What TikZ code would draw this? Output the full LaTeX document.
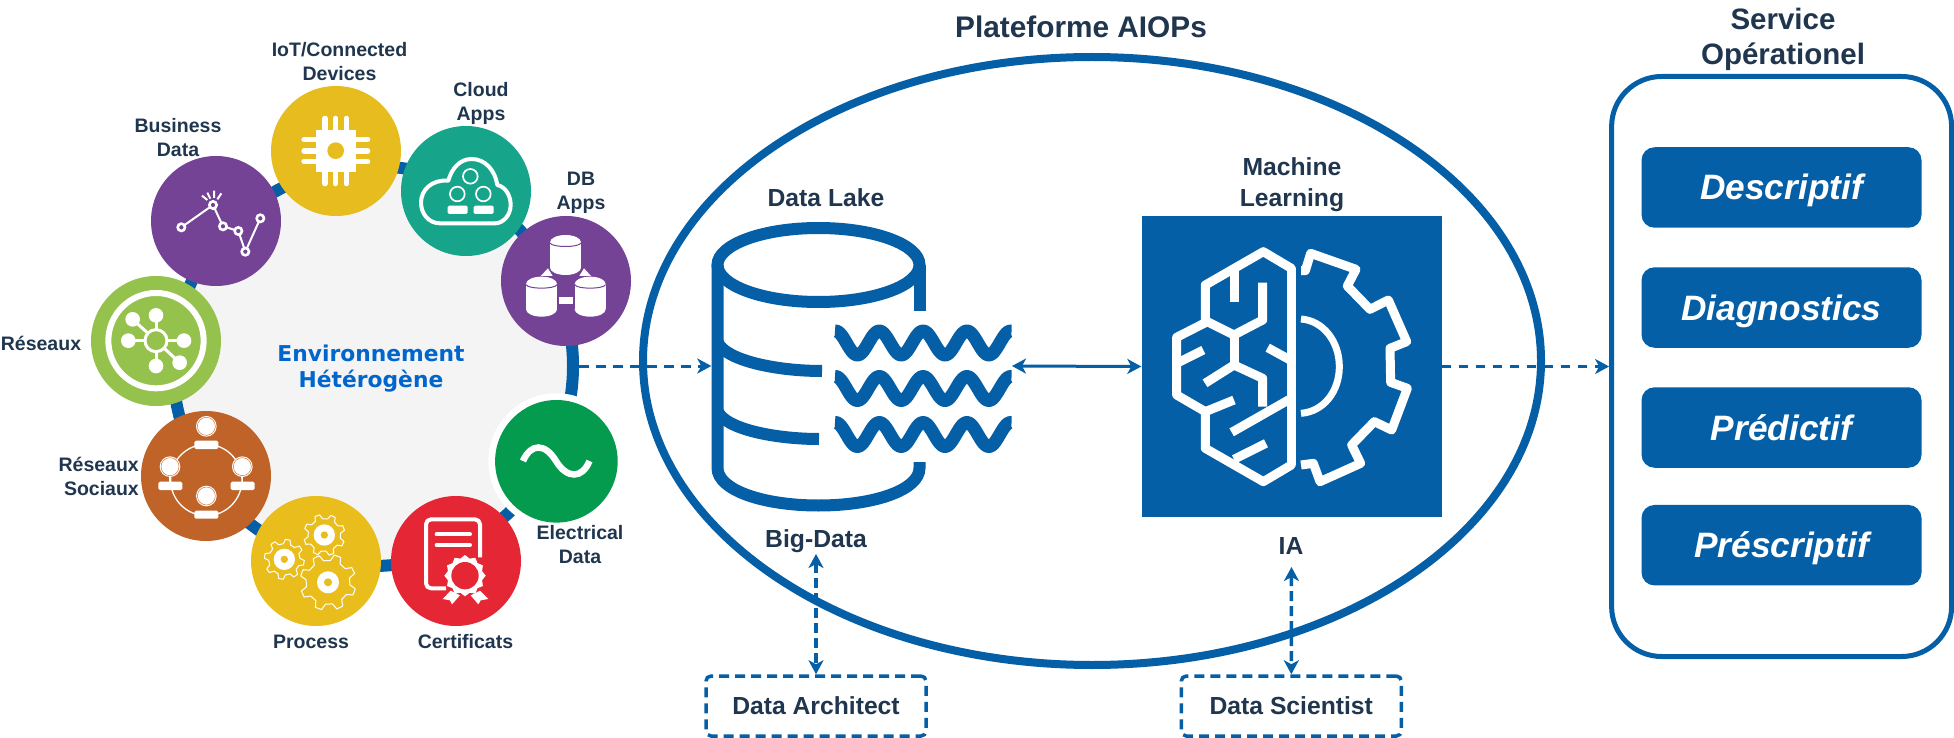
\documentclass[tikz,border=0pt]{standalone}
\usepackage{fontspec}
\setmainfont{Liberation Sans}
\newfontfamily\dvfont{DejaVu Sans}
\usetikzlibrary{arrows.meta,shapes.geometric}
\definecolor{bl}{HTML}{045FA6}
\definecolor{txt}{HTML}{20364F}
\definecolor{cyellow}{HTML}{E6BC1F}
\definecolor{cpurple}{HTML}{744396}
\definecolor{cgreen}{HTML}{95C14D}
\definecolor{cteal}{HTML}{16A58A}
\definecolor{cbrown}{HTML}{BF6328}
\definecolor{cgold}{HTML}{E9BE1C}
\definecolor{cred}{HTML}{E52635}
\definecolor{celec}{HTML}{059B4F}
\definecolor{cenv}{HTML}{0066CC}
\tikzset{
  disc/.style={circle,minimum size=130pt,inner sep=0pt},
  lbl/.style={font=\fontsize{19.5}{24}\selectfont\bfseries,text=txt,align=center,inner sep=0pt},
  bigl/.style={font=\fontsize{24.7}{30.5}\selectfont\bfseries,text=txt,align=center,inner sep=0pt},
  hugel/.style={font=\fontsize{29.5}{35}\selectfont\bfseries,text=txt,align=center,inner sep=0pt},
  svc/.style={rectangle,rounded corners=13pt,fill=bl,minimum width=280pt,minimum height=80.5pt,inner sep=0pt,
     text height=32pt,text depth=7pt,
     text=white,font=\fontsize{35.3}{40}\selectfont\bfseries\itshape},
  person/.style={rectangle,draw=bl,line width=3.5pt,dash pattern=on 10pt off 6pt,rounded corners=5pt,
     minimum width=220pt,minimum height=60pt,inner sep=0pt,font=\fontsize{24.7}{30}\selectfont\bfseries,text=txt},
  atip/.style={-{Stealth[length=14pt,width=15pt,inset=4pt]}},
  atips/.style={{Stealth[length=14pt,width=15pt,inset=4pt]}-{Stealth[length=14pt,width=15pt,inset=4pt]}},
  hdash/.style={draw=bl,line width=3pt,dash pattern=on 9.5pt off 7.5pt},
  vdash/.style={draw=bl,line width=3.5pt,dash pattern=on 10pt off 5pt},
  zoomed/.style={x=0.33333pt,y=-0.33333pt},
  wht/.style={draw=white,line cap=round,line join=round},
  anchorbox/.style={rectangle,inner sep=0pt},
}
\newcommand\gearpoly[6]{% cx cy ro ri n rot
  \pgfmathsetmacro\gs{360/#5}
  \pgfmathtruncatemacro\gl{#5-1}
  \draw[white,line width=1pt,line join=round,shift={(#1,#2)}] ({#6-0.3*\gs}:#4)
    \foreach \i in {0,...,\gl}{ -- ({#6+\i*\gs-0.3*\gs}:#4) -- ({#6+\i*\gs-0.15*\gs}:#3) -- ({#6+\i*\gs+0.15*\gs}:#3) -- ({#6+\i*\gs+0.3*\gs}:#4)} -- cycle;
}
\newcommand\gearicon[8]{% cx cy ro ri n rot disc hole
  \gearpoly{#1}{#2}{#3}{#4}{#5}{#6}
  \fill[white] (#1,#2) circle[radius=#7];
  \fill[cgold] (#1,#2) circle[radius=#8];
}
\newcommand\dbcyl[2]{% cx top
  \fill[white] (#1-46.5,#2+22) rectangle (#1+46.5,#2+98);
  \fill[white] (#1,#2+98) ellipse[x radius=46.5,y radius=22];
  \fill[white] (#1,#2+22) ellipse[x radius=46.5,y radius=22];
  \draw[cpurple,line width=1pt] (#1-46.5,#2+24) .. controls (#1-40,#2+38) and (#1+40,#2+38) .. (#1+46.5,#2+24);
}
\newcommand\usr[2]{% cx heady (person icon)
  \fill[white] (#1,#2) circle[radius=31];
  \draw[cbrown,line width=0.4pt] (#1,#2) circle[radius=27];
}
\begin{document}
\begin{tikzpicture}[x=1pt,y=-1pt]
\useasboundingbox (0,0) rectangle (1954,738);
\fill[white] (0,0) rectangle (1954,738);
% ring
\node[circle,draw=bl,fill=black!4.5,line width=12pt,minimum size=400pt,inner sep=0pt] (ring) at (373,366) {};
\node[inner sep=0pt,align=center,text=cenv,font=\dvfont\fontsize{21.8}{26}\selectfont\bfseries] (env) at (371,369) {Environnement\\Hétérogène};
% discs
\fill[white] (556.4,461.3) circle[radius=68];
\node[disc,fill=cyellow] (iot) at (336,151) {};
\node[disc,fill=cpurple] (bus) at (216,221) {};
\node[disc,fill=cgreen] (net) at (156,341) {};
\node[disc,fill=cteal] (cloud) at (466,191) {};
\node[disc,fill=cpurple] (db) at (566,281) {};
\node[disc,fill=cbrown] (soc) at (206,476) {};
\node[disc,fill=cgold] (proc) at (316,561) {};
\node[disc,fill=cred] (cert) at (456,561) {};
\node[circle,minimum size=122.6pt,inner sep=0pt,fill=celec] (elec) at (556.4,461.3) {};
% chip icon
\begin{scope}[shift={(90,80)},zoomed]
  \fill[white] (678,150) rectangle (798,275);
  \fill[cyellow] (737,212) circle[radius=25];
  \foreach \p in {705,737,770}{\draw[wht,line width=5.3pt] (\p,115)--(\p,150) (\p,275)--(\p,311);}
  \foreach \p in {178,213,245}{\draw[wht,line width=5.3pt] (642,\p)--(678,\p) (798,\p)--(833,\p);}
\end{scope}
% business icon
\begin{scope}[shift={(90,80)},zoomed]
  \draw[white,line width=2pt] (274,442)--(369,375)--(399,439)--(445,453)--(466,515)--(511,415);
  \foreach \q in {(274,442),(369,375),(399,439),(445,453),(466,515),(511,415)}{\draw[white,line width=2.6pt,fill=cpurple] \q circle[radius=11];}
  \draw[white,line width=2pt] (336,347)--(352,360) (352,338)--(361,356) (372,332)--(372,354) (394,340)--(382,358);
\end{scope}
% network icon
\begin{scope}[shift={(90,80)},zoomed]
  \draw[white,line width=6pt] (198,782) circle[radius=143];
  \foreach \q in {(198,706),(128,718),(115,782),(282,782),(198,858),(269,848)}{
    \draw[white,line width=3pt] (198,782)--\q; \fill[white] \q circle[radius=22];}
  \draw[white,line width=3pt,fill=cgreen] (198,782) circle[radius=33];
\end{scope}
% cloud icon
\begin{scope}[shift={(390,120)},zoomed]
  \draw[white,line width=4pt,line join=round] (150,310) .. controls (115,310) and (93,280) .. (93,248) .. controls (93,210) and (125,178) .. (175,182) .. controls (185,145) and (210,117) .. (245,117) .. controls (285,117) and (315,150) .. (322,195) .. controls (345,200) and (362,225) .. (362,255) .. controls (362,285) and (340,310) .. (315,310) -- cycle;
  \foreach \q in {(241,169),(202,222),(280,222)}{\draw[white,line width=1.7pt] \q circle[radius=22];}
  \fill[white,rounded corners=1.5pt] (173,257) rectangle (233,282);
  \fill[white,rounded corners=1.5pt] (251,257) rectangle (311,282);
\end{scope}
% db icon
\begin{scope}[shift={(390,120)},zoomed]
  \fill[white] (452,468)--(474,445)--(488,468)--cycle;
  \fill[white] (568,468)--(582,445)--(603,468)--cycle;
  \dbcyl{526.5}{345}
  \dbcyl{454.5}{470}
  \dbcyl{600.5}{470}
  \fill[white] (507,531) rectangle (549,553);
\end{scope}
% social icon
\begin{scope}[shift={(130,400)},zoomed]
  \draw[white,line width=1.3pt] (229,240) circle[radius=107];
  \usr{229}{79}\usr{120}{200}\usr{337}{200}\usr{229}{288}
  \foreach \q in {120,337}{\draw[white,line width=1.3pt] (\q,228)--(\q,250);}
  \fill[white,rounded corners=1.5pt] (193,122) rectangle (265,147);
  \fill[white,rounded corners=1.5pt] (85,245) rectangle (157,270);
  \fill[white,rounded corners=1.5pt] (302,245) rectangle (374,270);
  \fill[white,rounded corners=1.5pt] (193,332) rectangle (265,356);
\end{scope}
% gears icon
\begin{scope}[shift={(130,400)},zoomed]
  \gearicon{463}{478}{60}{47}{8}{10}{32}{11}
  \gearicon{583}{405}{62}{49}{8}{25}{32}{11}
  \gearicon{594}{547}{84}{66}{8}{20}{33}{12}
\end{scope}
% certificate icon
\begin{scope}[shift={(130,400)},zoomed]
  \draw[white,line width=4pt,line join=round,rounded corners=5pt] (948,565)--(888,565)--(888,358)--(1050,358)--(1050,472);
  \draw[wht,line width=4pt] (920,403)--(1020,403) (920,435)--(1020,435);
  \fill[white] (962,572)--(938,597)--(960,601)--(966,613)--(990,586)--cycle;
  \fill[white] (1050,572)--(1075,597)--(1052,601)--(1045,613)--(1022,586)--cycle;
  \pgfmathsetmacro\gs{360/12}
  \fill[white,shift={(1005,527)}] (0:62) \foreach \i in {0,...,11}{ -- ({\i*\gs}:62) -- ({\i*\gs+15}:53)} -- cycle;
  \fill[cred] (1005,527) circle[radius=41];
\end{scope}
% sine icon
\draw[white,line width=6.5pt] (523,461) .. controls (531,443) and (545,443) .. (556,461) .. controls (567,479) and (582,479) .. (589.5,461);
% labels left
\node[lbl] (l1) at (339.5,62) {IoT/Connected\\Devices};
\node[lbl] (l2) at (481,103) {Cloud\\Apps};
\node[lbl] (l3) at (581,193) {DB\\Apps};
\node[lbl] (l4) at (178,138) {Business\\Data};
\node[lbl] (l5) at (41,343) {Réseaux};
\node[lbl,align=right,anchor=east] (l6) at (139,476) {Réseaux\\Sociaux};
\node[lbl] (l7) at (311,642) {Process};
\node[lbl] (l8) at (465.5,642) {Certificats};
\node[lbl] (l9) at (580,545) {Electrical\\Data};
% platform
\node[ellipse,draw=bl,line width=8pt,minimum width=898pt,minimum height=608pt,inner sep=0pt] (plat) at (1092,361) {};
\node[font=\fontsize{29.8}{35}\selectfont\bfseries,text=txt,inner sep=0pt] (t1) at (1081,27) {Plateforme AIOPs};
\node[bigl] (t2) at (826,197.5) {Data Lake};
\node[bigl] (t3) at (1292,184.5) {Machine\\Learning};
\node[bigl] (t4) at (816,541) {Big-Data};
\node[bigl] (t5) at (1291,546) {IA};
\node[hugel] (t6) at (1783,39.5) {Service\\Opérationel};
% cylinder
\node[anchorbox,minimum width=214pt,minimum height=290pt] (lake) at (818.5,366) {};
\draw[bl,line width=12pt] (818.5,265) ellipse[x radius=101,y radius=37];
\draw[bl,line width=12pt] (919.5,265)--(919.5,310.6);
\draw[bl,line width=12pt] (717.5,265)--(717.5,468) .. controls (717.5,490) and (763,505.5) .. (818.5,505.5) .. controls (874,505.5) and (919.5,490) .. (919.5,468) -- (919.5,462);
\draw[bl,line width=12pt] (717.5,342) .. controls (725,360) and (775,371) .. (822,371);
\draw[bl,line width=12pt] (717.5,411) .. controls (725,429) and (775,439) .. (819,439);
\foreach \yc in {343,388.5,434.5}{
  \draw[bl,line width=13pt,line join=round] plot[domain=835:1011.5,samples=120] (\x,{\yc-12*cos(8.2192*(\x-835.5))});
}
\coordinate (wavesR) at (1012,366);
% ML box
\node[rectangle,fill=bl,minimum size=300pt,inner sep=0pt] (ml) at (1291.5,366.5) {};
\begin{scope}[shift={(1120,200)},zoomed,line width=9pt]
  \draw[wht,line cap=butt] (514,205)--(514,795);
  \draw[wht] (514,205)--(430,155)--(256,255)--(256,365);
  \draw[wht,line cap=butt] (342,205)--(342,305);
  \draw[wht,line cap=butt] (428,248)--(428,360)--(342,405)--(256,362);
  \draw[wht,line cap=butt] (342,405)--(342,500);
  \draw[wht,line cap=butt] (428,620)--(428,535)--(342,495)--(255,550);
  \draw[wht,line cap=butt] (170,490)--(250,450);
  \draw[wht,line cap=butt] (342,600)--(256,635);
  \draw[wht] (256,368)--(170,412)--(170,585)--(256,635)--(256,745)--(430,845)--(514,795);
  \draw[wht,line cap=butt] (335,697)--(514,595);
  \draw[wht,line cap=butt] (342,778)--(438,730);
  \draw[wht,line cap=butt] (443,443)--(514,482);
  \draw[wht,line cap=butt] (543,212)--(556,212)--(572,160)--(708,208)--(682,258)--(750,328)--(805,300)--(860,425)--(810,445)--(812,547)--(862,565)--(815,690)--(763,665)--(695,735)--(722,790)--(600,845)--(580,790)--(543,795);
  \draw[white,line width=7pt] (543,357) .. controls (610,362) and (658,425) .. (658,500) .. controls (658,575) and (610,635) .. (543,640);
\end{scope}
% service
\node[rectangle,draw=bl,line width=5pt,rounded corners=50pt,minimum width=340pt,minimum height=580pt,inner sep=0pt] (svcbox) at (1781.6,366.5) {};
\node[svc] (s1) at (1781.5,187.5) {Descriptif};
\node[svc] (s2) at (1781.5,307.5) {Diagnostics};
\node[svc] (s3) at (1781.5,427.5) {Prédictif};
\node[svc] (s4) at (1781.5,545.2) {Préscriptif};
% persons
\node[person] (arch) at (816,706) {Data Architect};
\node[person] (sci) at (1291.3,706) {Data Scientist};
% connectors
\draw[hdash,atip,bl] (ring.east) -- (lake.west);
\draw[bl,line width=3pt,atips] (wavesR) -- (ml.west);
\draw[hdash,atip,bl] (ml.east) -- (svcbox.west);
\coordinate (bdbot) at (816,554);
\coordinate (iabot) at (1291.5,567);
\draw[vdash,atips,bl] (bdbot) -- (arch.north);
\draw[vdash,atips,bl] (iabot) -- (sci.north);
\end{tikzpicture}
\end{document}
